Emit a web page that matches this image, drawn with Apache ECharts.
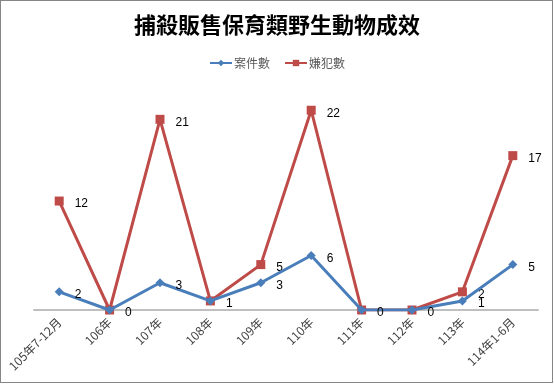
<!DOCTYPE html>
<html><head><meta charset="utf-8">
<script src="https://cdn.jsdelivr.net/npm/echarts@6/dist/echarts.min.js"></script>
<style>
html,body{margin:0;padding:0;background:#fff;}
#wrap{position:absolute;left:0;top:0;width:553px;height:383px;box-sizing:border-box;border:1px solid #868686;}
#c{position:absolute;left:0;top:0;width:554px;height:385px;}
</style></head>
<body>
<div id="c"></div>
<div id="wrap"></div>
<script>
const categories = ['105年7-12月','106年','107年','108年','109年','110年','111年','112年','113年','114年1-6月'];
const cases = [2,0,3,1,3,6,0,0,1,5];
const suspects = [12,0,21,1,5,22,0,0,2,17];
const seriesNames = ['案件數','嫌犯數'];

const chart = echarts.init(document.getElementById('c'));
const labelStyle = {show:true, position:'right', distance:11, color:'#000', fontSize:12, fontFamily:'Liberation Sans, sans-serif', offset:[0,3]};
chart.setOption({
  animation:false,
  title:{text:'捕殺販售保育類野生動物成效', left:'center', top:9,
    textStyle:{fontFamily:'Noto Sans CJK TC', fontWeight:'bold', fontSize:22, color:'#000'}},
  legend:{top:52, left:'center', itemWidth:22, itemHeight:8, itemGap:14,
    textStyle:{fontFamily:'Noto Sans CJK TC', fontSize:12, color:'#595959', padding:[0,0,0,-3]},
    data:seriesNames},
  grid:{left:34, right:16, top:83, height:227, containLabel:false},
  xAxis:{type:'category', data:categories, boundaryGap:true,
    axisLine:{lineStyle:{color:'#BFBFBF', width:2}}, axisTick:{show:false},
    axisLabel:{rotate:45, interval:0, color:'#404040', fontSize:12, margin:10,
      fontFamily:'Noto Sans CJK TC'}},
  yAxis:{type:'value', min:0, max:25, interval:5, show:false, splitLine:{show:false}},
  series:[
    {name:seriesNames[0], type:'line', data:cases, symbol:'diamond', symbolSize:9,
      itemStyle:{color:'#4A7EBB'}, lineStyle:{width:3, color:'#4A7EBB'},
      label:Object.assign({}, labelStyle), z:3},
    {name:seriesNames[1], type:'line', data:suspects, symbol:'rect', symbolSize:9,
      itemStyle:{color:'#BE4B48'}, lineStyle:{width:3, color:'#BE4B48'},
      label:Object.assign({}, labelStyle, {
        formatter: p => (p.value === 0 || p.value === cases[p.dataIndex]) ? '' : String(p.value)
      }), z:2}
  ]
});
</script>
</body></html>
